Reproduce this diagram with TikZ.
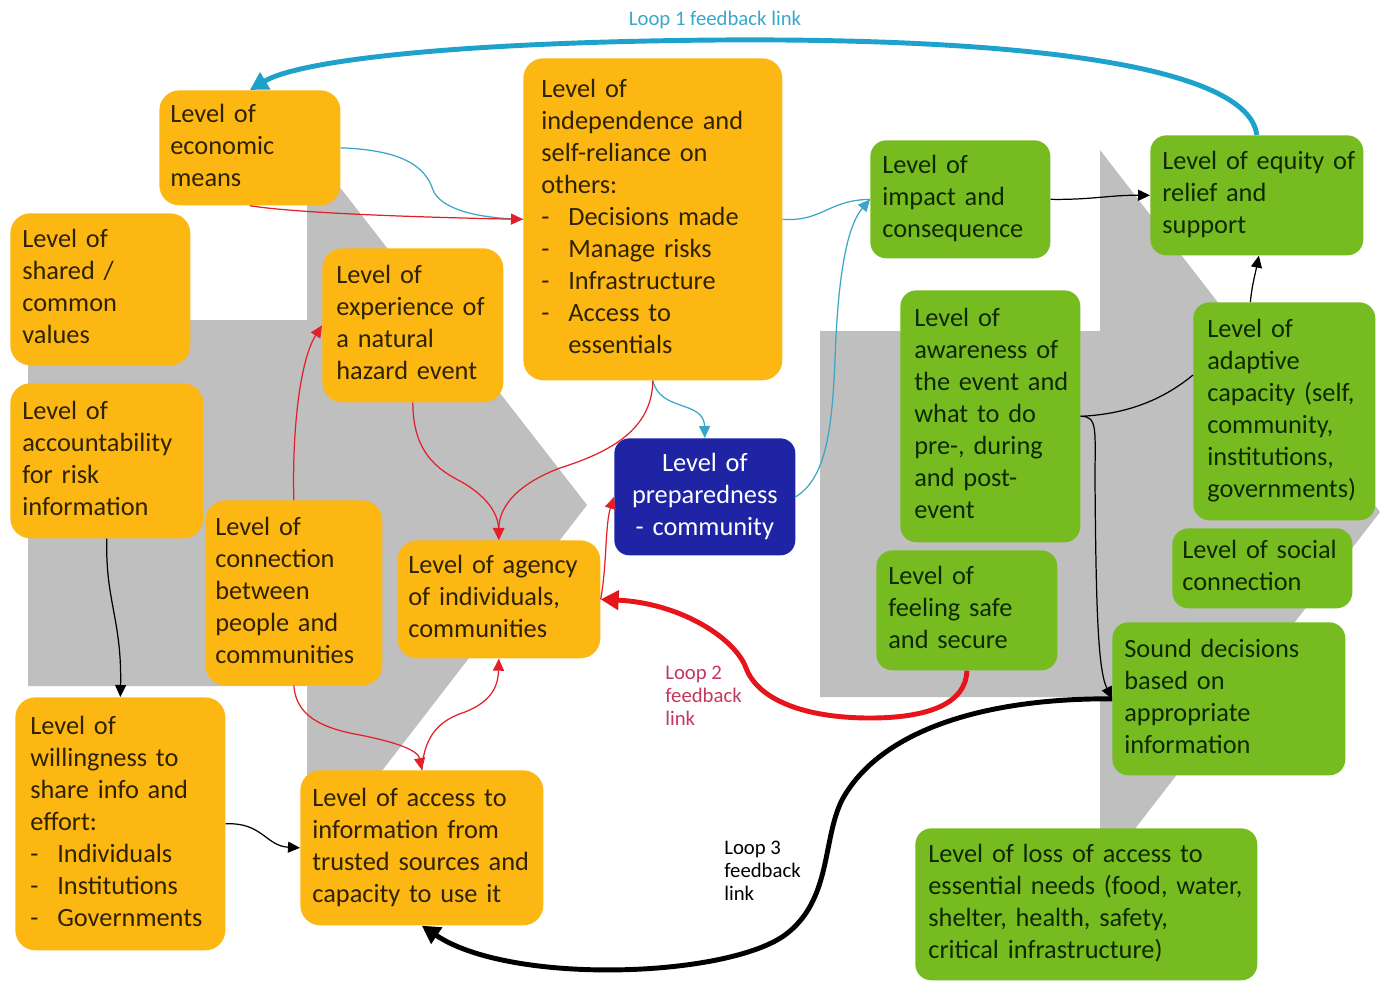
\documentclass[tikz,border=0pt]{standalone}
\usepackage{fontspec}
\setmainfont{Carlito}
\usetikzlibrary{arrows.meta,calc}

\definecolor{orfill}{HTML}{FDB713}
\definecolor{grfill}{HTML}{76BC21}
\definecolor{bluefill}{HTML}{1E24A3}
\definecolor{ortext}{HTML}{2E2200}
\definecolor{grtext}{HTML}{102800}
\definecolor{greyblock}{HTML}{BFBFBF}
\definecolor{redline}{HTML}{E2202A}
\definecolor{loopred}{HTML}{E8141B}
\definecolor{cyanline}{HTML}{3AA6C6}
\definecolor{loopcyan}{HTML}{1EA2CB}
\definecolor{labcyan}{HTML}{3AA8CC}
\definecolor{labred}{HTML}{C2385F}

\newcommand\mainsz{\fontsize{15pt}{18.2pt}\selectfont}
\newcommand\loopsz{\fontsize{11.8pt}{13pt}\selectfont}
\newcommand\txtlines[1]{\begin{tabular}{@{}l@{}}#1\end{tabular}}
\newcommand\ctrlines[1]{\begin{tabular}{@{}c@{}}#1\end{tabular}}
\newcommand\itm{\makebox[0.54cm][l]{-}}

\begin{document}
\begin{tikzpicture}[x=0.02cm, y=-0.02cm,
  obox/.style={fill=orfill, rounded corners=0.4cm, anchor=north west, inner ysep=0pt, align=left, text=ortext, font=\mainsz},
  gbox/.style={fill=grfill, rounded corners=0.32cm, anchor=north west, inner ysep=0pt, align=left, text=grtext, font=\mainsz},
  bbox/.style={fill=bluefill, rounded corners=0.3cm, anchor=north west, inner ysep=0pt, align=center, text=white, font=\mainsz},
  thintip/.style={-{Triangle[length=0.24cm,width=0.22cm]}},
  looptip/.style={-{Triangle[length=0.36cm,width=0.38cm]}},
  redthin/.style={draw=redline, line width=0.7pt, thintip},
  cyanthin/.style={draw=cyanline, line width=0.7pt},
  blackthin/.style={draw=black, line width=0.7pt},
  loopone/.style={draw=loopcyan, line width=2.8pt, looptip},
  looptwo/.style={draw=loopred, line width=2.8pt, looptip},
  loopthree/.style={draw=black, line width=2.8pt, looptip},
  looplabel/.style={font=\loopsz, inner sep=0pt, align=left}
]
\useasboundingbox (0,0) rectangle (1381,983);
\fill[white] (0,0) rectangle (1381,983);

% grey block arrows in the background
\fill[greyblock] (28,320) -- (307,320) -- (307,145) -- (587,505) -- (307,868) -- (307,686) -- (28,686) -- cycle;
\fill[greyblock] (820,331) -- (1100,331) -- (1100,150) -- (1380,512) -- (1100,874) -- (1100,697) -- (820,697) -- cycle;

% orange factors
\node[obox, minimum width=3.62cm, minimum height=2.30cm, text width=3.18cm, inner xsep=0.22cm] (econ) at (159,90)
  {\txtlines{Level of\\economic\\means}};
\node[obox, minimum width=3.60cm, minimum height=3.04cm, text width=3.12cm, inner xsep=0.24cm] (shared) at (10,213)
  {\txtlines{Level of\\shared /\\common\\values}};
\node[obox, minimum width=3.86cm, minimum height=3.10cm, text width=3.38cm, inner xsep=0.24cm] (acct) at (10,383)
  {\txtlines{Level of\\accountability\\for risk\\information}};
\node[obox, minimum width=4.20cm, minimum height=5.06cm, text width=3.60cm, inner xsep=0.30cm] (will) at (15,697)
  {\txtlines{Level of\\willingness to\\share info and\\effort:\\\itm Individuals\\\itm Institutions\\\itm Governments}};
\node[obox, minimum width=3.54cm, minimum height=3.70cm, text width=3.14cm, inner xsep=0.20cm] (conn) at (205,500)
  {\txtlines{Level of\\connection\\between\\people and\\communities}};
\node[obox, minimum width=3.62cm, minimum height=3.08cm, text width=3.06cm, inner xsep=0.28cm] (exper) at (322,248)
  {\txtlines{Level of\\experience of\\a natural\\hazard event}};
\node[obox, minimum width=5.18cm, minimum height=6.44cm, text width=4.46cm, inner xsep=0.36cm] (indep) at (523,58)
  {\txtlines{Level of\\independence and\\self-reliance on\\others:\\\itm Decisions made\\\itm Manage risks\\\itm Infrastructure\\\itm Access to\\\hspace{0.54cm}essentials}};
\node[obox, minimum width=4.06cm, minimum height=2.36cm, text width=3.62cm, inner xsep=0.22cm] (agency) at (397,540)
  {\txtlines{Level of agency\\of individuals,\\communities}};
\node[obox, minimum width=4.86cm, minimum height=3.10cm, text width=4.38cm, inner xsep=0.24cm] (access) at (300,770)
  {\txtlines{Level of access to\\information from\\trusted sources and\\capacity to use it}};

% central outcome
\node[bbox, minimum width=3.62cm, minimum height=2.34cm, text width=3.30cm, inner xsep=0.16cm] (prep) at (614,438)
  {\ctrlines{Level of\\preparedness\\- community}};

% green factors
\node[gbox, minimum width=3.60cm, minimum height=2.36cm, text width=3.12cm, inner xsep=0.24cm] (impact) at (870,140)
  {\txtlines{Level of\\impact and\\consequence}};
\node[gbox, minimum width=4.26cm, minimum height=2.40cm, text width=3.78cm, inner xsep=0.24cm] (equity) at (1150,135)
  {\txtlines{Level of equity of\\relief and\\support}};
\node[gbox, minimum width=3.60cm, minimum height=5.04cm, text width=3.04cm, inner xsep=0.28cm] (aware) at (900,290)
  {\txtlines{Level of\\awareness of\\the event and\\what to do\\pre-, during\\and post-\\event}};
\node[gbox, minimum width=3.64cm, minimum height=4.36cm, text width=3.08cm, inner xsep=0.28cm] (adapt) at (1193,302)
  {\txtlines{Level of\\adaptive\\capacity (self,\\community,\\institutions,\\governments)}};
\node[gbox, minimum width=3.60cm, minimum height=1.60cm, text width=3.20cm, inner xsep=0.20cm] (social) at (1172,528)
  {\txtlines{Level of social\\connection}};
\node[gbox, minimum width=3.62cm, minimum height=2.40cm, text width=3.14cm, inner xsep=0.24cm] (feel) at (876,550)
  {\txtlines{Level of\\feeling safe\\and secure}};
\node[gbox, minimum width=4.66cm, minimum height=3.06cm, text width=4.18cm, inner xsep=0.24cm] (sound) at (1112,622)
  {\txtlines{Sound decisions\\based on\\appropriate\\information}};
\node[gbox, minimum width=6.84cm, minimum height=3.04cm, text width=6.32cm, inner xsep=0.26cm] (loss) at (915,828)
  {\txtlines{Level of loss of access to\\essential needs (food, water,\\shelter, health, safety,\\critical infrastructure)}};

% loop labels
\node[looplabel, text=labcyan] (lab1) at (715,20) {Loop 1 feedback link};
\node[looplabel, text=labred, anchor=west] (lab2) at (665,698) {\txtlines{Loop 2\\feedback\\link}};
\node[looplabel, text=black, anchor=west] (lab3) at (724,873) {\txtlines{Loop 3\\feedback\\link}};

% thin links, left cluster
\draw[cyanthin] (econ.east) .. controls (400,150) and (425,165) .. (433,190) .. controls (440,207) and (470,218) .. (indep.west);
\draw[redthin] (econ.south) .. controls (300,214) and (450,218) .. (indep.west);
\draw[cyanthin, thintip] (indep.south) .. controls (660,412) and (704,400) .. (prep.north);
\draw[redthin] (indep.south) .. controls (652,430) and (610,452) .. (560,468) .. controls (520,483) and (499,505) .. (agency.north);
\draw[redthin] (exper.south) .. controls (413,445) and (430,466) .. (460,481) .. controls (485,495) and (498,512) .. (agency.north);
\draw[redthin] (conn.north) .. controls (292,430) and (300,360) .. (exper.west);
\draw[redthin] (conn.south) .. controls (296,715) and (320,728) .. (360,735) .. controls (395,742) and (418,750) .. (access.north);
\draw[redthin] (access.north) .. controls (424,735) and (440,720) .. (465,712) .. controls (490,702) and (498,688) .. (agency.south);
\draw[redthin] (agency.east) .. controls (607,565) and (605,525) .. (prep.west);
\draw[blackthin, thintip] (acct.south) .. controls (105,600) and (122,620) .. (will.north);
\draw[blackthin, thintip] (will.east) .. controls (262,822) and (266,846) .. (access.west);

% thin links, right cluster
\draw[cyanthin, thintip] (prep.east) .. controls (826,478) and (832,430) .. (835,360) .. controls (838,270) and (848,225) .. (impact.west);
\draw[cyanthin] (indep.east) .. controls (822,222) and (828,200) .. (impact.west);
\draw[blackthin, thintip] (impact.east) .. controls (1090,200) and (1110,195) .. (equity.west);
\draw[blackthin, thintip] ($(adapt.north)+(-34,0)$) .. controls (1252,285) and (1255,275) .. ($(equity.south)+(2,0)$);
\draw[blackthin] (aware.east) .. controls (1130,414) and (1165,398) .. ($(adapt.north west)+(0,73)$);
\draw[blackthin, thintip] (aware.east) .. controls (1098,416) and (1095,430) .. (1095,480) .. controls (1096,610) and (1098,670) .. (sound.west);

% feedback loops
\draw[loopone] (equity.north) .. controls (1248,65) and (1020,38) .. (720,40) .. controls (460,42) and (300,60) .. (econ.north);
\draw[looptwo] (feel.south) .. controls (966,705) and (925,718) .. (870,718) .. controls (805,718) and (758,700) .. (746,668) .. controls (735,638) and (680,603) .. (agency.east);
\draw[loopthree] (sound.west) .. controls (985,698) and (880,730) .. (842,800) .. controls (822,840) and (832,900) .. (785,935) .. controls (725,978) and (510,985) .. (access.south);
\end{tikzpicture}
\end{document}
